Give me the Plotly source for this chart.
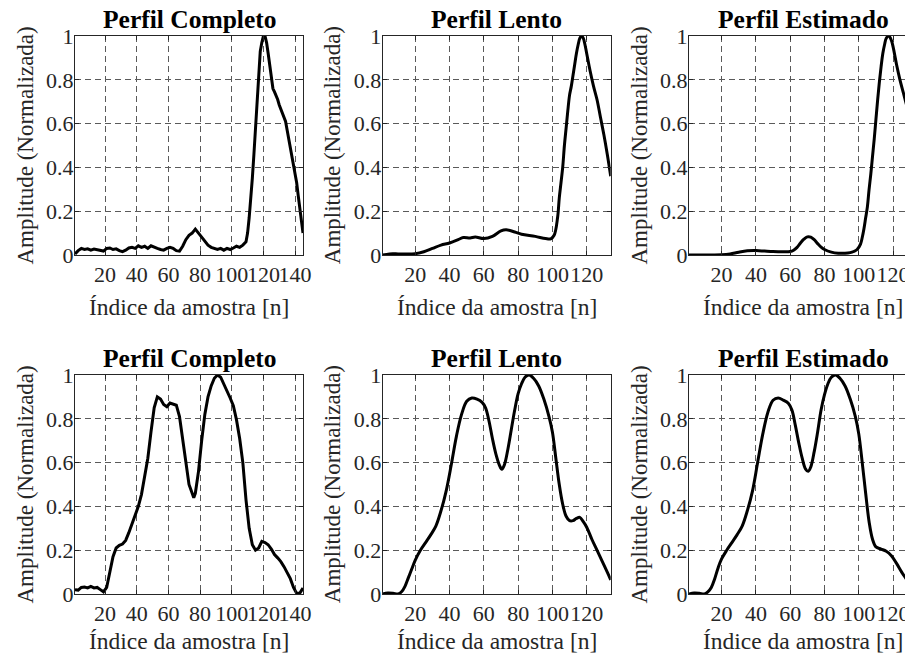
import plotly.graph_objects as go

# ---------------- data ----------------
panel_titles = ["Perfil Completo", "Perfil Lento", "Perfil Estimado"]
x_label = "Índice da amostra [n]"
y_label = "Amplitude (Normalizada)"
y_tick_vals = [0, 0.2, 0.4, 0.6, 0.8, 1]
y_tick_text = ["0", "0.2", "0.4", "0.6", "0.8", "1"]
x_ticks_full = [20, 40, 60, 80, 100, 120, 140]
x_ticks_short = [20, 40, 60, 80, 100, 120]

# Row 1 - Perfil Completo (noisy)
n_comp_top = [1, 3, 5, 7, 9, 11, 13, 15, 17, 19, 21, 23, 25, 27, 29, 31, 33, 35, 37, 39,
              41, 43, 45, 47, 49, 51, 53, 55, 57, 59, 61, 63, 65, 67, 69, 71, 73, 75, 77, 79,
              81, 83, 85, 87, 89, 91, 93, 95, 97, 99, 101, 103, 105, 107, 109, 110, 111, 112,
              113, 114, 115, 116, 117, 118, 119, 120, 121, 122, 123, 124, 125, 126, 127, 128,
              129, 130, 131, 132, 133, 134, 135, 136, 137, 138, 139, 140, 141, 142, 143, 144, 145]
amp_comp_top = [0.005, 0.02, 0.03, 0.025, 0.028, 0.022, 0.027, 0.024, 0.02, 0.018, 0.03, 0.032,
                0.025, 0.028, 0.02, 0.015, 0.022, 0.032, 0.035, 0.03, 0.042, 0.035, 0.04, 0.03,
                0.042, 0.035, 0.03, 0.025, 0.022, 0.03, 0.035, 0.03, 0.02, 0.018, 0.04, 0.07,
                0.09, 0.1, 0.118, 0.1, 0.08, 0.06, 0.045, 0.035, 0.03, 0.025, 0.03, 0.022, 0.03,
                0.025, 0.032, 0.04, 0.035, 0.045, 0.06, 0.1, 0.17, 0.25, 0.35, 0.46, 0.57, 0.72,
                0.84, 0.93, 0.97, 1.0, 1.0, 0.97, 0.92, 0.87, 0.8, 0.76, 0.745, 0.73, 0.71, 0.685,
                0.665, 0.645, 0.63, 0.61, 0.57, 0.53, 0.49, 0.45, 0.41, 0.38, 0.33, 0.27, 0.22,
                0.16, 0.1]

# Row 1 - Perfil Lento
n_lento_top = [1, 5, 10, 15, 20, 25, 30, 35, 40, 45, 48, 52, 55, 60, 65, 70, 73, 78, 82, 90,
               96, 99, 101, 103, 104, 105, 106, 107, 108, 109, 110, 111, 112, 113, 114, 115,
               116, 117, 118, 119, 120, 122, 124, 126, 128, 130, 132, 134]
amp_lento_top = [0.0, 0.005, 0.005, 0.004, 0.006, 0.015, 0.03, 0.045, 0.055, 0.07, 0.08, 0.078,
                 0.082, 0.075, 0.085, 0.11, 0.115, 0.105, 0.095, 0.085, 0.075, 0.074, 0.09, 0.17,
                 0.26, 0.33, 0.4, 0.5, 0.58, 0.66, 0.73, 0.77, 0.82, 0.87, 0.92, 0.96, 0.99, 1.0,
                 0.99, 0.96, 0.92, 0.84, 0.77, 0.71, 0.63, 0.55, 0.46, 0.36]

# Row 1 - Perfil Estimado
n_est_top = [1, 5, 10, 15, 20, 25, 30, 35, 40, 45, 50, 55, 60, 62, 64, 66, 68, 70, 72, 74, 76,
             78, 80, 84, 88, 92, 95, 97, 99, 101, 102, 103, 104, 105, 106, 107, 108, 109, 110,
             111, 112, 113, 114, 115, 116, 117.5, 119, 120, 122, 124, 126, 128, 130, 132]
amp_est_top = [0.0, 0.0, 0.0, 0.0, 0.001, 0.005, 0.013, 0.019, 0.02, 0.018, 0.016, 0.015, 0.016,
               0.022, 0.035, 0.055, 0.072, 0.083, 0.082, 0.07, 0.052, 0.036, 0.025, 0.013, 0.008,
               0.008, 0.011, 0.016, 0.025, 0.05, 0.08, 0.12, 0.17, 0.22, 0.3, 0.37, 0.45, 0.53,
               0.62, 0.71, 0.79, 0.86, 0.92, 0.96, 0.99, 1.0, 0.98, 0.95, 0.87, 0.8, 0.74, 0.68,
               0.62, 0.55]

# Row 2 - Perfil Completo (noisy)
n_comp_bot = [1, 3, 5, 7, 9, 11, 13, 15, 17, 19, 21, 23, 25, 27, 29, 31, 33, 35, 37, 39, 41,
              43, 45, 47, 49, 51, 53, 55, 57, 59, 61, 63, 65, 67, 69, 71, 73, 75, 76, 77, 79,
              81, 83, 85, 87, 89, 91, 93, 95, 97, 99, 101, 103, 105, 107, 109, 111, 113, 115,
              117, 119, 121, 123, 125, 127, 129, 131, 133, 135, 137, 139, 141, 143, 145]
amp_comp_bot = [0.02, 0.018, 0.03, 0.032, 0.028, 0.035, 0.028, 0.03, 0.02, 0.01, 0.03, 0.1,
                0.17, 0.21, 0.222, 0.228, 0.245, 0.28, 0.32, 0.355, 0.4, 0.455, 0.53, 0.62, 0.74,
                0.85, 0.9, 0.89, 0.865, 0.855, 0.872, 0.866, 0.862, 0.81, 0.7, 0.59, 0.5, 0.46,
                0.44, 0.46, 0.56, 0.7, 0.82, 0.9, 0.95, 0.985, 1.0, 0.99, 0.96, 0.925, 0.895,
                0.86, 0.795, 0.71, 0.6, 0.43, 0.3, 0.225, 0.2, 0.21, 0.24, 0.235, 0.225, 0.205,
                0.18, 0.165, 0.148, 0.125, 0.1, 0.07, 0.03, 0.003, 0.004, 0.027]

# Row 2 - Perfil Lento
n_lento_bot = [1, 4, 7, 10, 12, 14, 16, 18, 20, 23, 26, 29, 32, 35, 38, 41, 44, 47, 50, 53, 56,
               59, 61, 63, 65, 67, 69, 70.5, 72, 74, 76, 78, 80, 82, 84, 86.5, 89, 92, 95, 98,
               100, 102, 104, 106, 108, 110, 112, 114, 116, 118, 120, 123, 126, 129, 132, 134]
amp_lento_bot = [0.0, 0.004, 0.003, 0.0, 0.01, 0.035, 0.075, 0.115, 0.155, 0.2, 0.235, 0.27,
                 0.31, 0.38, 0.47, 0.59, 0.72, 0.82, 0.88, 0.895, 0.89, 0.875, 0.85, 0.79, 0.71,
                 0.64, 0.59, 0.57, 0.59, 0.66, 0.75, 0.84, 0.915, 0.96, 0.99, 1.0, 0.985, 0.95,
                 0.89, 0.81, 0.74, 0.62, 0.5, 0.41, 0.355, 0.335, 0.335, 0.345, 0.35, 0.33,
                 0.305, 0.25, 0.2, 0.15, 0.1, 0.065]

# Row 2 - Perfil Estimado
n_est_bot = [1, 4, 7, 10, 12, 14, 16, 18, 20, 23, 26, 29, 32, 35, 38, 41, 44, 47, 50, 53, 56,
             59, 61, 63, 65, 67, 69, 70.5, 72, 74, 76, 78, 80, 82, 84, 86.5, 89, 92, 95, 98,
             100, 102, 104, 106, 108, 110, 113, 116, 119, 122, 125, 128, 131, 132]
amp_est_bot = [0.0, 0.004, 0.003, 0.0, 0.01, 0.03, 0.07, 0.12, 0.16, 0.2, 0.235, 0.27, 0.31,
               0.38, 0.47, 0.6, 0.73, 0.83, 0.885, 0.895, 0.885, 0.87, 0.84, 0.77, 0.69, 0.62,
               0.57, 0.56, 0.58, 0.65, 0.74, 0.84, 0.91, 0.96, 0.99, 1.0, 0.985, 0.95, 0.89,
               0.81, 0.73, 0.6, 0.46, 0.33, 0.25, 0.215, 0.205, 0.195, 0.175, 0.14, 0.1, 0.065,
               0.03, 0.02]

# ---------------- layout helpers ----------------
PAGE_W, PAGE_H = 913, 659
OFF = 8                      # page body margin in the browser
W, H = PAGE_W - OFF, PAGE_H - OFF
FONT = "Liberation Serif"
TXT = "#262626"
GRID = "#5a5a5a"

# positions measured on the page (reference pixels)
col_left_px = [75, 382.7, 689]
col_width_px = 228
row_top_px = [36, 375]
row_height_px = 219
x_ranges = [[1, 145], [1, 134], [1, 131.6]]
x_ticks = [x_ticks_full, x_ticks_short, x_ticks_short]
xlabel_gap_px = [52, 47]


def px_x(p):
    return (p - OFF) / W


def px_y(p):
    return 1 - (p - OFF) / H


series = [
    [(n_comp_top, amp_comp_top, "linear"), (n_lento_top, amp_lento_top, "spline"),
     (n_est_top, amp_est_top, "spline")],
    [(n_comp_bot, amp_comp_bot, "linear"), (n_lento_bot, amp_lento_bot, "spline"),
     (n_est_bot, amp_est_bot, "spline")],
]

fig = go.Figure()
annotations = []
layout_axes = {}
k = 0
for r in range(2):
    for c in range(3):
        k += 1
        xs, ys, shape = series[r][c]
        xa = "x" if k == 1 else f"x{k}"
        ya = "y" if k == 1 else f"y{k}"
        fig.add_trace(go.Scatter(x=xs, y=ys, mode="lines", xaxis=xa, yaxis=ya,
                                 line=dict(color="black", width=3, shape=shape),
                                 hoverinfo="skip", showlegend=False))
        x0 = px_x(col_left_px[c])
        x1 = min(1.0, px_x(col_left_px[c] + col_width_px))
        y1 = px_y(row_top_px[r])
        y0 = px_y(row_top_px[r] + row_height_px)
        axis_common = dict(showgrid=True, gridcolor=GRID, griddash="6px,4px", gridwidth=1,
                           zeroline=False, showline=True, linecolor=TXT, linewidth=1,
                           ticks="inside", ticklen=4, tickcolor=TXT, tickangle=0,
                           automargin=False,
                           tickfont=dict(family=FONT, size=22, color=TXT))
        layout_axes["xaxis" if k == 1 else f"xaxis{k}"] = dict(
            axis_common, domain=[x0, x1], anchor=ya, range=x_ranges[c],
            tickvals=x_ticks[c], mirror="ticks")
        layout_axes["yaxis" if k == 1 else f"yaxis{k}"] = dict(
            axis_common, domain=[y0, y1], anchor=xa, range=[0, 1],
            tickvals=y_tick_vals, ticktext=y_tick_text, ticklabelstandoff=-4,
            mirror=("ticks" if c < 2 else False))
        cx = px_x(col_left_px[c] + col_width_px / 2)
        # panel title
        annotations.append(dict(text=f"<b>{panel_titles[c]}</b>", xref="paper", yref="paper",
                                x=cx, y=px_y(row_top_px[r] - 16.5), xanchor="center",
                                yanchor="middle", showarrow=False,
                                font=dict(family=FONT, size=25.5, color="black")))
        # x label
        annotations.append(dict(text=x_label, xref="paper", yref="paper", x=cx,
                                y=px_y(row_top_px[r] + row_height_px + xlabel_gap_px[r]),
                                xanchor="center", yanchor="middle", showarrow=False,
                                font=dict(family=FONT, size=23.5, color=TXT)))
        # y label
        annotations.append(dict(text=y_label, xref="paper", yref="paper",
                                x=px_x(col_left_px[c] - 50),
                                y=px_y(row_top_px[r] + row_height_px / 2),
                                xanchor="center", yanchor="middle", textangle=-90,
                                showarrow=False,
                                font=dict(family=FONT, size=23, color=TXT)))

fig.update_layout(width=W, height=H, margin=dict(l=0, r=0, t=0, b=0, autoexpand=False),
                  template="none",
                  paper_bgcolor="white", plot_bgcolor="white", showlegend=False,
                  annotations=annotations, **layout_axes)

fig.write_html("out.html")
